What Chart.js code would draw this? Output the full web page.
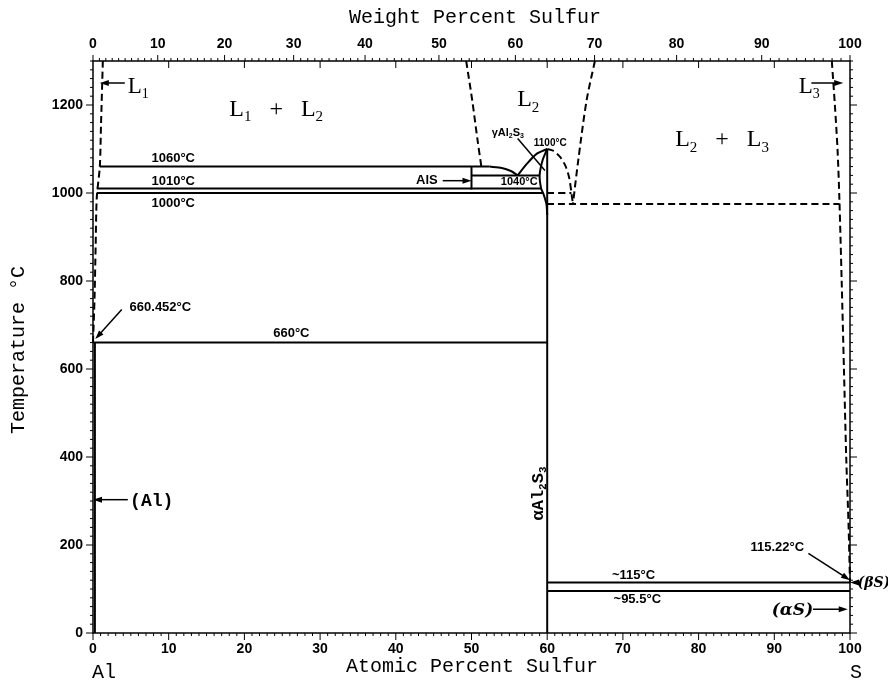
<!DOCTYPE html>
<html>
<head>
<meta charset="utf-8">
<script src="https://cdn.jsdelivr.net/npm/chart.js@4.4.0/dist/chart.umd.min.js"></script>
<style>
  body { margin: 0; background: #fff; }
  #wrap { width: 888px; height: 682px; }
</style>
</head>
<body>
<div id="wrap"><canvas id="phase" width="888" height="682"></canvas></div>
<script>
// x = atomic percent sulfur, y = temperature (C)

// tick labels
var atTicks = [0, 10, 20, 30, 40, 50, 60, 70, 80, 90, 100];
var wtTicks = [0, 10, 20, 30, 40, 50, 60, 70, 80, 90, 100];
var tempTicks = [0, 200, 400, 600, 800, 1000, 1200];

// solid boundaries
var solvusAl = [[0.25, 0], [0.25, 660]];
var eutectic660 = [[0, 660], [60, 660]];
var monotectic1060 = [[0.9, 1060], [52.4, 1060]];
var liquidusAlS = [[52.4, 1060], [54, 1057], [55.2, 1050], [56.1, 1040]];
var alsLine = [[50, 1008], [50, 1060]];
var peritectic1040 = [[50, 1040], [59, 1040]];
var line1010 = [[0.5, 1010], [59.2, 1010]];
var line1000 = [[0.5, 1000], [59.4, 1000]];
var liquidusGammaL = [[56.1, 1040], [57.3, 1066], [58.6, 1089], [60, 1100]];
var gammaLeft = [[60, 1100], [59.4, 1075], [59, 1040], [59.2, 1010], [59.5, 998], [59.9, 975], [60, 950]];
var al2s3Line = [[60, 0], [60, 1100]];
var line115 = [[60, 115], [100, 115]];
var line95 = [[60, 95.5], [100, 95.5]];

// dashed boundaries
var liquidusL1 = [[0, 660], [0.2, 760], [0.35, 880], [0.5, 990], [0.9, 1060], [1.05, 1150], [1.3, 1300]];
var gapL2left = [[49.3, 1300], [50.1, 1210], [50.8, 1120], [51.3, 1060]];
var gapL2right = [[66.3, 1300], [65.2, 1210], [64.1, 1074], [63.4, 975]];
var liquidusGammaR = [[60, 1100], [60.8, 1096], [61.7, 1082], [62.4, 1062], [62.9, 1035], [63.2, 1000], [63.4, 975]];
var monotectic975 = [[60, 975], [98.6, 975]];
var dashed1000 = [[60, 1000], [63.2, 1000]];
var liquidusS = [[97.6, 1300], [98, 1200], [98.35, 1100], [98.6, 985], [98.9, 800], [99.2, 600], [99.5, 400], [99.8, 250], [100, 115]];

var solidLines = [solvusAl, eutectic660, monotectic1060, liquidusAlS, alsLine, peritectic1040,
  line1010, line1000, liquidusGammaL, gammaLeft, al2s3Line, line115, line95];
var dashedLines = [liquidusL1, gapL2left, gapL2right, liquidusGammaR, monotectic975, dashed1000, liquidusS];

// weight % -> atomic % for the top axis
function wtToAt(w) {
  var s = w / 32.06, a = (100 - w) / 26.98;
  return 100 * s / (s + a);
}

function toPoints(arr) {
  return arr.map(function(p) { return {x: p[0], y: p[1]}; });
}

var datasets = [];
solidLines.forEach(function(l) {
  datasets.push({data: toPoints(l), showLine: true, borderColor: '#000', borderWidth: 2,
    pointRadius: 0, tension: 0.25, clip: false});
});
dashedLines.forEach(function(l) {
  datasets.push({data: toPoints(l), showLine: true, borderColor: '#000', borderWidth: 2,
    borderDash: [7, 4], pointRadius: 0, tension: 0.3, clip: false});
});

// text on the diagram, placed in data coordinates
var phaseLabels = [
  {x: 4.6, y: 1227, parts: [['L'], ['1', 1]], size: 23, align: 'left'},
  {x: 24.2, y: 1176, parts: [['L'], ['1', 1], ['   +   '], ['L'], ['2', 1]], size: 24, align: 'center'},
  {x: 57.5, y: 1197, parts: [['L'], ['2', 1]], size: 24, align: 'center'},
  {x: 96.0, y: 1227, parts: [['L'], ['3', 1]], size: 23, align: 'right'},
  {x: 83.1, y: 1106, parts: [['L'], ['2', 1], ['   +   '], ['L'], ['3', 1]], size: 24, align: 'center'}
];
var tempLabels = [
  {x: 10.6, y: 1078, text: '1060°C', size: 13},
  {x: 10.6, y: 1027, text: '1010°C', size: 13},
  {x: 10.6, y: 977, text: '1000°C', size: 13},
  {x: 56.3, y: 1025, text: '1040°C', size: 11},
  {x: 60.4, y: 1112, text: '1100°C', size: 10},
  {x: 8.9, y: 741, text: '660.452°C', size: 13},
  {x: 26.2, y: 681, text: '660°C', size: 13},
  {x: 90.4, y: 195, text: '115.22°C', size: 13},
  {x: 71.4, y: 131, text: '~115°C', size: 13},
  {x: 71.9, y: 76, text: '~95.5°C', size: 13},
  {x: 44.1, y: 1029, text: 'AlS', size: 13}
];
var arrows = [
  [4.2, 1250, 0.9, 1250],
  [94.9, 1250, 99.1, 1250],
  [46.2, 1028, 50, 1028],
  [3.8, 735, 0.3, 668],
  [4.6, 303, 0, 303],
  [94.5, 181, 100, 120],
  [95.1, 54, 99.7, 54],
  [101.0, 115, 100, 115]
];

function drawRich(ctx, parts, x, y, size, family, weight, align) {
  var w = 0;
  parts.forEach(function(p) {
    ctx.font = weight + ' ' + (p[1] ? Math.round(size * 0.62) : size) + 'px ' + family;
    w += ctx.measureText(p[0]).width;
  });
  var cx = align === 'center' ? x - w / 2 : (align === 'right' ? x - w : x);
  ctx.textAlign = 'left';
  ctx.textBaseline = 'alphabetic';
  parts.forEach(function(p) {
    ctx.font = weight + ' ' + (p[1] ? Math.round(size * 0.62) : size) + 'px ' + family;
    ctx.fillText(p[0], cx, p[1] ? y + size * 0.22 : y);
    cx += ctx.measureText(p[0]).width;
  });
}

function arrow(ctx, x1, y1, x2, y2) {
  var ang = Math.atan2(y2 - y1, x2 - x1);
  ctx.beginPath();
  ctx.moveTo(x1, y1);
  ctx.lineTo(x2 - 6 * Math.cos(ang), y2 - 6 * Math.sin(ang));
  ctx.lineWidth = 1.5;
  ctx.stroke();
  ctx.beginPath();
  ctx.moveTo(x2, y2);
  ctx.lineTo(x2 - 9 * Math.cos(ang) + 3 * Math.sin(ang), y2 - 9 * Math.sin(ang) - 3 * Math.cos(ang));
  ctx.lineTo(x2 - 9 * Math.cos(ang) - 3 * Math.sin(ang), y2 - 9 * Math.sin(ang) + 3 * Math.cos(ang));
  ctx.closePath();
  ctx.fill();
}

var decor = {
  id: 'decor',
  afterDraw: function(chart) {
    var ctx = chart.ctx, a = chart.chartArea;
    var xs = chart.scales.x, ys = chart.scales.y;
    ctx.save();
    ctx.strokeStyle = '#000';
    ctx.fillStyle = '#000';

    // frame
    ctx.lineWidth = 1.5;
    ctx.strokeRect(a.left, a.top, a.right - a.left, a.bottom - a.top);

    // tick marks
    ctx.lineWidth = 1;
    ctx.beginPath();
    for (var i = 0; i <= 100; i++) {
      var px = xs.getPixelForValue(i);
      var len = i % 10 === 0 ? 7 : 3;
      ctx.moveTo(px, a.bottom); ctx.lineTo(px, a.bottom + len);
      if (i % 10 === 0 && i > 0 && i < 100) { ctx.moveTo(px, a.top); ctx.lineTo(px, a.top + 7); }
      var pw = xs.getPixelForValue(wtToAt(i));
      ctx.moveTo(pw, a.top); ctx.lineTo(pw, a.top - (i % 10 === 0 ? 6 : 3));
    }
    for (var t = 0; t <= 1300; t += 20) {
      var py = ys.getPixelForValue(t);
      var tl = t % 200 === 0 ? 7 : 3;
      ctx.moveTo(a.left, py); ctx.lineTo(a.left - tl, py);
      ctx.moveTo(a.right, py); ctx.lineTo(a.right + tl, py);
    }
    ctx.stroke();

    // arrows
    arrows.forEach(function(r) {
      arrow(ctx, xs.getPixelForValue(r[0]), ys.getPixelForValue(r[1]),
        xs.getPixelForValue(r[2]), ys.getPixelForValue(r[3]));
    });
    // leader for the gamma phase label
    ctx.beginPath();
    ctx.lineWidth = 1.5;
    ctx.moveTo(xs.getPixelForValue(56.1), ys.getPixelForValue(1124));
    ctx.lineTo(xs.getPixelForValue(59.7), ys.getPixelForValue(1051));
    ctx.stroke();

    // phase field labels
    phaseLabels.forEach(function(l) {
      drawRich(ctx, l.parts, xs.getPixelForValue(l.x), ys.getPixelForValue(l.y), l.size,
        '"Liberation Serif", serif', 'normal', l.align);
    });
    ctx.textAlign = 'center';
    ctx.textBaseline = 'middle';
    tempLabels.forEach(function(l) {
      ctx.font = 'bold ' + l.size + 'px "Liberation Sans", Arial, sans-serif';
      ctx.fillText(l.text, xs.getPixelForValue(l.x), ys.getPixelForValue(l.y));
    });

    drawRich(ctx, [['γAl'], ['2', 1], ['S'], ['3', 1]], xs.getPixelForValue(54.8), ys.getPixelForValue(1130),
      11, '"Liberation Sans", sans-serif', 'bold', 'center');
    drawRich(ctx, [['(Al)']], xs.getPixelForValue(4.9), ys.getPixelForValue(303) + 6, 18,
      '"Liberation Mono", monospace', 'bold', 'left');
    drawRich(ctx, [['(αS)']], xs.getPixelForValue(92.4), ys.getPixelForValue(54) + 6, 17,
      '"DejaVu Serif", serif', 'bold italic', 'center');
    drawRich(ctx, [['(βS)']], xs.getPixelForValue(101.0), ys.getPixelForValue(115) + 5, 14,
      '"DejaVu Serif", serif', 'bold italic', 'left');

    // rotated alpha Al2S3 label
    ctx.save();
    ctx.translate(xs.getPixelForValue(58.6), ys.getPixelForValue(317));
    ctx.rotate(-Math.PI / 2);
    drawRich(ctx, [['αAl'], ['2', 1], ['S'], ['3', 1]], 0, 6, 17, '"Liberation Mono", monospace', 'bold', 'center');
    ctx.restore();

    // axis titles
    ctx.font = '20px "Liberation Mono", monospace';
    ctx.textAlign = 'center';
    ctx.textBaseline = 'middle';
    ctx.fillText('Weight Percent Sulfur', 475, 18);
    ctx.fillText('Atomic Percent Sulfur', 472, 667);
    ctx.textAlign = 'left';
    ctx.fillText('Al', 92, 673);
    ctx.fillText('S', 850, 673);
    ctx.save();
    ctx.translate(19, 350);
    ctx.rotate(-Math.PI / 2);
    ctx.textAlign = 'center';
    ctx.fillText('Temperature °C', 0, 0);
    ctx.restore();

    ctx.restore();
  }
};

var tickFont = {family: '"Liberation Sans", Arial, sans-serif', size: 14, weight: 'bold'};
function plainLabel(v) { return String(v); }

new Chart(document.getElementById('phase'), {
  type: 'scatter',
  data: {datasets: datasets},
  plugins: [decor],
  options: {
    responsive: false,
    animation: false,
    events: [],
    layout: {padding: {right: 38}},
    plugins: {legend: {display: false}, tooltip: {enabled: false}},
    scales: {
      x: {
        type: 'linear', position: 'bottom', min: 0, max: 100,
        grid: {display: false, drawTicks: false, tickLength: 0},
        border: {display: false},
        afterBuildTicks: function(s) { s.ticks = atTicks.map(function(v) { return {value: v}; }); },
        afterFit: function(s) { s.height = 49; },
        ticks: {autoSkip: false, maxRotation: 0, padding: 8, color: '#000', font: tickFont, callback: plainLabel}
      },
      x2: {
        type: 'linear', position: 'top', min: 0, max: 100,
        grid: {display: false, drawTicks: false, tickLength: 0},
        border: {display: false},
        afterBuildTicks: function(s) { s.ticks = wtTicks.map(function(w) { return {value: wtToAt(w)}; }); },
        afterFit: function(s) { s.height = 61; },
        ticks: {autoSkip: false, maxRotation: 0, padding: 8, color: '#000', font: tickFont,
          callback: function(v, i) { return String(wtTicks[i]); }}
      },
      y: {
        type: 'linear', min: 0, max: 1300,
        grid: {display: false, drawTicks: false, tickLength: 0},
        border: {display: false},
        afterBuildTicks: function(s) { s.ticks = tempTicks.map(function(v) { return {value: v}; }); },
        afterFit: function(s) { s.width = 93; },
        ticks: {autoSkip: false, padding: 10, color: '#000', font: tickFont, callback: plainLabel}
      }
    }
  }
});
</script>
</body>
</html>
